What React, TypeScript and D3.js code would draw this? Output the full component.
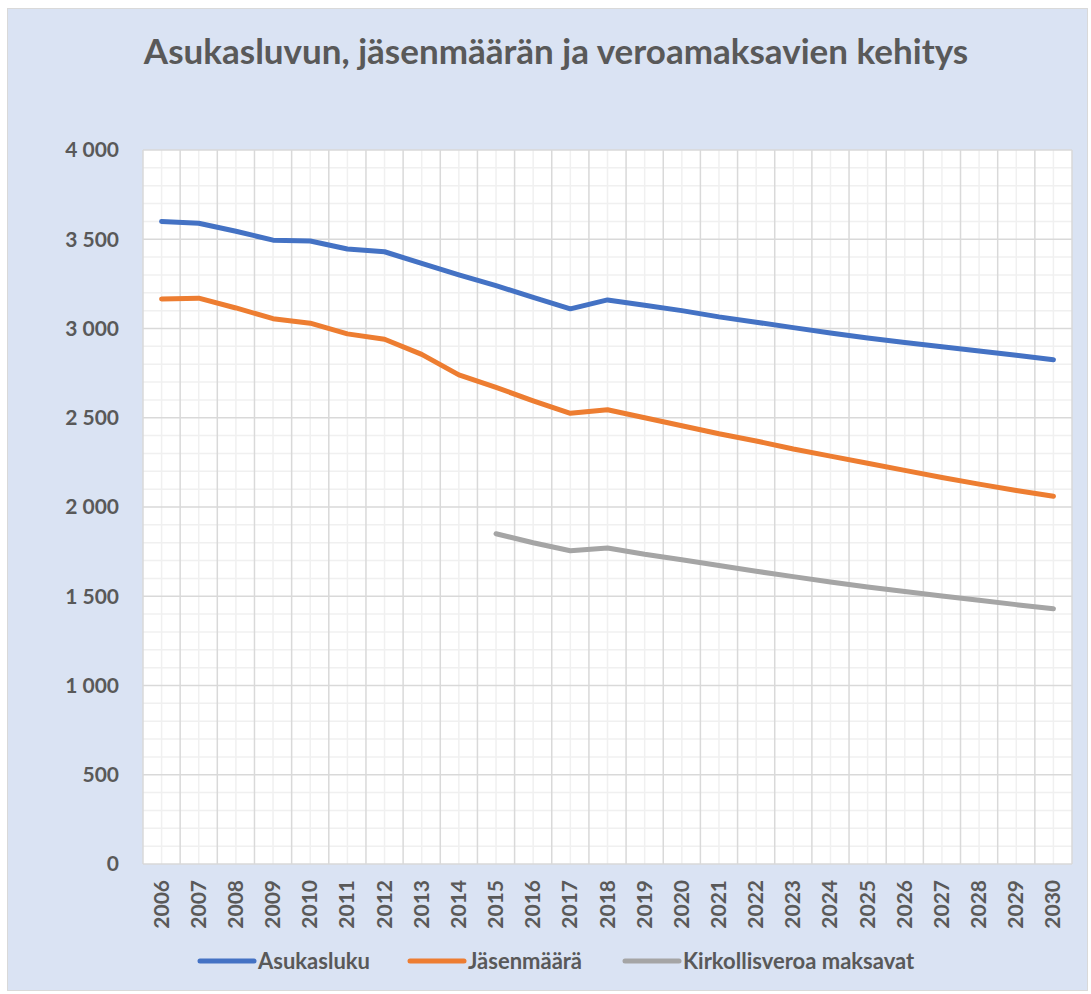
import React, { useRef, useEffect } from "react";
import { select, scaleBand, scaleLinear, line, range } from "d3";

// vuodet
const years = [
  "2006", "2007", "2008", "2009", "2010", "2011", "2012", "2013", "2014",
  "2015", "2016", "2017", "2018", "2019", "2020", "2021", "2022", "2023",
  "2024", "2025", "2026", "2027", "2028", "2029", "2030",
];

const asukasluku = [
  3600, 3590, 3545, 3495, 3490, 3445, 3430, 3365, 3300, 3240, 3175, 3110,
  3160, 3130, 3100, 3065, 3035, 3005, 2975, 2947, 2922, 2898, 2874, 2850, 2825,
];

const jasenmaara = [
  3165, 3170, 3115, 3055, 3030, 2970, 2940, 2855, 2740, 2670, 2595, 2525,
  2545, 2500, 2455, 2410, 2370, 2325, 2285, 2245, 2205, 2165, 2128, 2092, 2060,
];

const kirkollisvero = [
  null, null, null, null, null, null, null, null, null, 1850, 1800, 1755,
  1770, 1735, 1705, 1672, 1640, 1610, 1580, 1552, 1527, 1502, 1478, 1453, 1430,
];

const yTicks = [0, 500, 1000, 1500, 2000, 2500, 3000, 3500, 4000];

const seriesNames = ["Asukasluku", "Jäsenmäärä", "Kirkollisveroa maksavat"];
const colors = ["#4472c4", "#ed7d31", "#a5a5a5"];

const W = 1091;
const H = 994;
const FONT = "Lato, 'Open Sans', sans-serif";
const TXT = "#595959";

export default function App() {
  const svgRef = useRef<SVGSVGElement>(null);

  useEffect(() => {
    const svg = select(svgRef.current);
    svg.selectAll("*").remove();

    const left = 143, right = 1072, top = 150, bottom = 864;

    // tausta
    svg.append("rect")
      .attr("x", 7.5).attr("y", 8.5)
      .attr("width", 1080).attr("height", 982)
      .attr("fill", "#dae3f3")
      .attr("stroke", "#d9d9d9");

    const x = scaleBand<string>().domain(years).range([left, right]).padding(0);
    const y = scaleLinear().domain([0, 4000]).range([bottom, top]);
    const bw = x.bandwidth();

    const g = svg.append("g");
    g.append("rect")
      .attr("x", left).attr("y", top)
      .attr("width", right - left).attr("height", bottom - top)
      .attr("fill", "white");

    // apuviivat
    const minorY = range(0, 4001, 100).filter((v) => v % 500 !== 0);
    g.selectAll(".minory").data(minorY).enter().append("line")
      .attr("x1", left).attr("x2", right)
      .attr("y1", (d) => y(d)).attr("y2", (d) => y(d))
      .attr("stroke", "#f0f0f0").attr("stroke-width", 1.5);
    g.selectAll(".minorx").data(years).enter().append("line")
      .attr("x1", (d) => x(d)! + bw / 2).attr("x2", (d) => x(d)! + bw / 2)
      .attr("y1", top).attr("y2", bottom)
      .attr("stroke", "#f0f0f0").attr("stroke-width", 1.5);
    g.selectAll(".majory").data(yTicks).enter().append("line")
      .attr("x1", left).attr("x2", right)
      .attr("y1", (d) => y(d)).attr("y2", (d) => y(d))
      .attr("stroke", "#d9d9d9").attr("stroke-width", 1.5);
    g.selectAll(".majorx").data(years.concat(["end"])).enter().append("line")
      .attr("x1", (d, i) => left + i * bw).attr("x2", (d, i) => left + i * bw)
      .attr("y1", top).attr("y2", bottom)
      .attr("stroke", "#d9d9d9").attr("stroke-width", 1.5);

    // y-akselin tekstit
    g.selectAll(".ylab").data(yTicks).enter().append("text")
      .attr("x", 119).attr("y", (d) => y(d))
      .attr("dy", "0.35em")
      .attr("text-anchor", "end")
      .attr("font-family", FONT).attr("font-weight", "bold")
      .attr("font-size", 21).attr("fill", TXT)
      .text((d) => (d >= 1000 ? Math.floor(d / 1000) + " " + String(d % 1000).padStart(3, "0") : String(d)));

    // x-akselin tekstit
    g.selectAll(".xlab").data(years).enter().append("text")
      .attr("transform", (d) => `translate(${x(d)! + bw / 2 + 7},880) rotate(-90)`)
      .attr("text-anchor", "end")
      .attr("font-family", FONT).attr("font-weight", "bold")
      .attr("font-size", 21).attr("fill", TXT)
      .text((d) => d);

    // viivat
    const all = [asukasluku, jasenmaara, kirkollisvero];
    const lineGen = line<number | null>()
      .defined((d) => d != null)
      .x((d, i) => x(years[i])! + bw / 2)
      .y((d) => y(d as number));

    all.forEach((s, k) => {
      g.append("path")
        .attr("d", lineGen(s))
        .attr("fill", "none")
        .attr("stroke", colors[k])
        .attr("stroke-width", 5)
        .attr("stroke-linecap", "round")
        .attr("stroke-linejoin", "round");
    });

    // otsikko
    svg.append("text")
      .attr("x", 556).attr("y", 64)
      .attr("text-anchor", "middle")
      .attr("font-family", FONT).attr("font-weight", "bold")
      .attr("font-size", 35).attr("fill", TXT)
      .text("Asukasluvun, jäsenmäärän ja veroamaksavien kehitys");

    // selite
    const legendX = [200, 410, 625];
    seriesNames.forEach((name, k) => {
      svg.append("line")
        .attr("x1", legendX[k]).attr("x2", legendX[k] + 54)
        .attr("y1", 961).attr("y2", 961)
        .attr("stroke", colors[k]).attr("stroke-width", 5)
        .attr("stroke-linecap", "round");
      svg.append("text")
        .attr("x", legendX[k] + 58).attr("y", 969)
        .attr("font-family", FONT).attr("font-weight", "bold")
        .attr("font-size", 22).attr("fill", TXT)
        .text(name);
    });
  }, []);

  return (
    <div style={{ position: "absolute", left: 0, top: 0 }}>
      <svg ref={svgRef} width={W} height={H} style={{ display: "block" }}></svg>
    </div>
  );
}
